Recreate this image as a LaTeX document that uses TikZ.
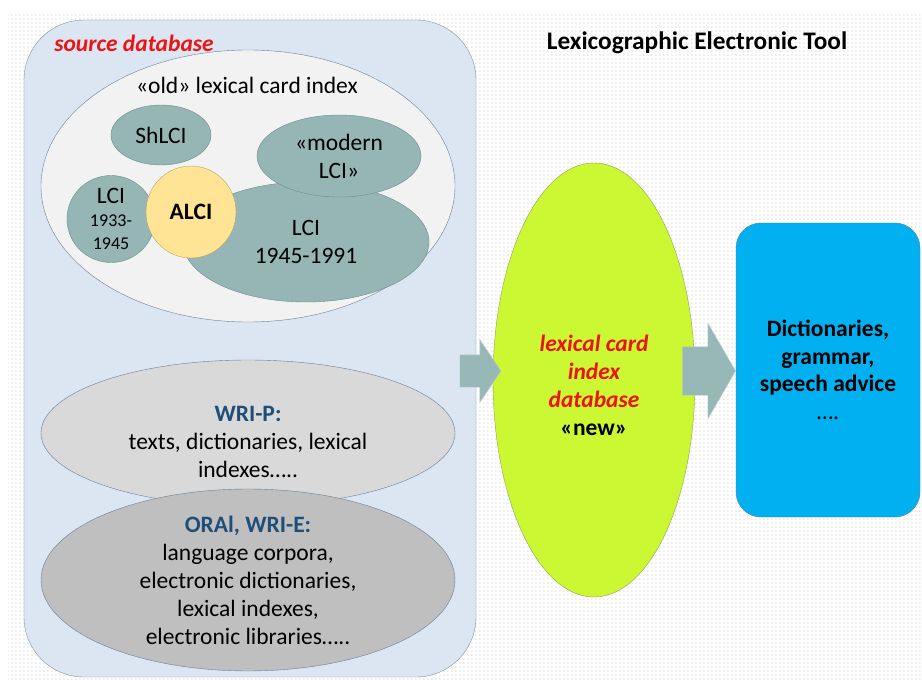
\documentclass[tikz,border=0pt]{standalone}
\usepackage{fontspec}
\setmainfont{Carlito}
\usetikzlibrary{shapes.geometric,shapes.arrows,patterns}
\definecolor{dotgray}{RGB}{170,170,170}
\definecolor{srcfill}{RGB}{220,230,242}
\definecolor{srcedge}{RGB}{120,150,160}
\definecolor{oldfill}{RGB}{242,242,242}
\definecolor{slate}{RGB}{100,128,150}
\definecolor{tealfill}{RGB}{149,182,181}
\definecolor{tealedge}{RGB}{105,140,140}
\definecolor{alcifill}{RGB}{255,228,150}
\definecolor{alciedge}{RGB}{185,165,100}
\definecolor{wripfill}{RGB}{217,217,217}
\definecolor{oralfill}{RGB}{191,191,191}
\definecolor{newfill}{RGB}{204,248,51}
\definecolor{newedge}{RGB}{140,160,90}
\definecolor{arrfill}{RGB}{152,184,184}
\definecolor{arredge}{RGB}{180,205,205}
\definecolor{outfill}{RGB}{0,176,240}
\definecolor{outedge}{RGB}{80,130,160}
\definecolor{hdblue}{RGB}{31,78,121}
\definecolor{hdred}{RGB}{235,20,20}
\pgfdeclarepatternformonly{bgdots}{\pgfqpoint{0pt}{0pt}}{\pgfqpoint{3.7pt}{3.7pt}}{\pgfqpoint{3.7pt}{3.7pt}}{%
  \pgfpathcircle{\pgfqpoint{1pt}{1pt}}{0.55pt}\pgfusepath{fill}}
\tikzset{%
  txt/.style={font={\fontsize{23.5}{28}\selectfont},align=center,inner sep=0},
  bubble/.style={txt,draw=slate,shape=ellipse},
  tealbub/.style={bubble,draw=tealedge,fill=tealfill},
  redit/.style={font={\fontsize{23.5}{28}\selectfont\bfseries\itshape},text=hdred,inner sep=0},
  blockarr/.style={draw=arredge,fill=arrfill,shape=single arrow,inner xsep=0,single arrow head indent=0}
}
\begin{document}
\begin{tikzpicture}[x=1pt,y=-1pt]
  \useasboundingbox (0,0) rectangle (922,680);
  \fill[pattern=bgdots,pattern color=dotgray] (8,13) rectangle (922,680);
  % source database
  \node (src)[draw=srcedge,fill=srcfill,rounded corners=60pt,minimum width=452,minimum height=657] at (250,348.5) {};
  \node (srclbl)[redit] at (134,43) {source database};
  \node (title)[txt,font={\fontsize{25.3}{28}\selectfont\bfseries}] at (697,43) {Lexicographic Electronic Tool};
  % old card index
  \node (old)[bubble,fill=oldfill,minimum width=414,minimum height=272] at (248,186) {};
  \node (oldlbl)[txt] at (247,85) {«old» lexical card index};
  \node (lcib)[tealbub,minimum width=246,minimum height=120] at (306,242) {LCI\\1945-1991};
  \node (lcim)[tealbub,minimum width=164,minimum height=82] at (339,156) {«modern\\LCI»};
  \node (lci33)[tealbub,minimum width=88,minimum height=87] at (111,219) {LCI\\[-5pt]{\fontsize{18}{22}\selectfont 1933-}\\[-5pt]{\fontsize{18}{22}\selectfont 1945}};
  \node (shlci)[tealbub,minimum width=100,minimum height=60] at (161,135) {ShLCI};
  \node (alci)[bubble,draw=alciedge,fill=alcifill,minimum width=90,minimum height=92,font={\fontsize{23.5}{28}\selectfont\bfseries}] at (191,212) {ALCI};
  % written and oral sources
  \node (wrip)[bubble,fill=wripfill,minimum width=414,minimum height=146] at (248,433) {};
  \node (wriplbl)[txt] at (248,442) {\textbf{\color{hdblue}WRI-P:}\\texts, dictionaries, lexical\\indexes…..};
  \node (oral)[bubble,fill=oralfill,minimum width=414,minimum height=176] at (248,580) {\textbf{\color{hdblue}ORAl, WRI-E:}\\language corpora,\\electronic dictionaries,\\lexical indexes,\\electronic libraries…..};
  % new database and output
  \node (db)[bubble,draw=newedge,fill=newfill,minimum width=202,minimum height=434] at (594,380) {};
  \node (dblbl)[txt] at (594,385) {\textcolor{hdred}{\bfseries\itshape lexical card}\\\textcolor{hdred}{\bfseries\itshape index}\\\textcolor{hdred}{\bfseries\itshape database}\\\textbf{«new»}};
  \node (out)[txt,draw=outedge,fill=outfill,rounded corners=25pt,minimum width=184,minimum height=294,font={\fontsize{23.5}{27.5}\selectfont\bfseries}] at (828,370) {Dictionaries,\\grammar,\\speech advice\\\mdseries ….};
  \node (arra)[blockarr,inner ysep=16pt,minimum height=41,single arrow head extend=15pt,single arrow tip angle=112] at (475,371) {};
  \node (arrb)[blockarr,inner ysep=24pt,minimum height=53,single arrow head extend=23.5pt,single arrow tip angle=120] at (702,371) {};
\end{tikzpicture}
\end{document}
